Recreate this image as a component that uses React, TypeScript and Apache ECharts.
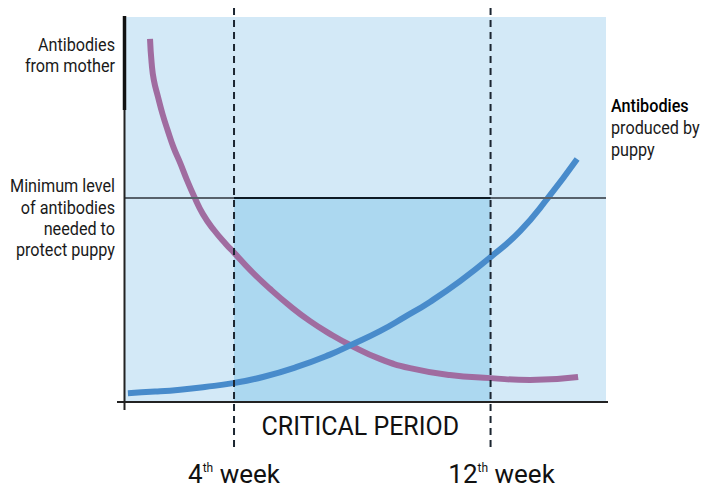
import React, { useEffect, useRef } from "react";
import * as echarts from "echarts";

// Weeks along the x axis, antibody level (0-100) along the y axis
const markedWeeks = [4, 12];
const weekNumbers = ["4", "12"];
const thresholdLevel = 53;

const motherWeeks = [1.38, 1.43, 1.5, 1.63, 1.77, 1.93, 2.11, 2.32, 2.53, 2.75, 3.03, 3.38, 3.75, 4.0, 4.5, 5.12, 5.75, 6.37, 6.99, 7.62, 8.55, 9.49, 10.73, 12.01, 13.23, 14.73];
const motherLevels = [94.3, 88.1, 83.6, 79.2, 74.8, 70.6, 66.2, 62.1, 57.7, 53.5, 48.8, 44.6, 41.0, 38.8, 34.3, 29.4, 24.9, 21.0, 17.7, 14.8, 11.2, 8.8, 7.0, 6.2, 5.7, 6.5];

const puppyWeeks = [0.69, 1.54, 2.32, 3.09, 3.97, 4.9, 5.96, 6.99, 7.62, 8.55, 9.33, 10.11, 11.05, 12.01, 12.92, 13.79, 14.7];
const puppyLevels = [2.3, 2.7, 3.2, 3.9, 4.9, 6.5, 9.1, 12.3, 14.7, 18.4, 22.1, 26.0, 31.4, 37.7, 44.4, 53.0, 63.1];

const motherLabel = ["Antibodies", "from mother"];
const thresholdLabel = ["Minimum level", "of antibodies", "needed to", "protect puppy"];
const puppyLabel = ["Antibodies", "produced by", "puppy"];
const periodLabel = "CRITICAL PERIOD";

const FONT = "Roboto, 'Liberation Sans', sans-serif";
const TEXT = "#1a1a1a";

export default function App() {
  const ref = useRef<HTMLDivElement>(null);

  useEffect(() => {
    if (!ref.current) return;
    const chart = echarts.init(ref.current, null, { renderer: "svg" });
    const zip = (xs: number[], ys: number[]) => xs.map((x, i) => [x, ys[i]]);

    chart.setOption({
      animation: false,
      grid: {
        left: 125,
        top: 17,
        width: 481,
        height: 385,
        show: true,
        backgroundColor: "#d3e9f7",
        borderWidth: 0,
      },
      xAxis: { type: "value", min: 0.6, max: 15.6, show: false },
      yAxis: { type: "value", min: 0, max: 100, show: false },
      series: [
        {
          type: "line",
          data: [],
          z: 1,
          silent: true,
          markArea: {
            silent: true,
            itemStyle: { color: "#acd8f0" },
            data: [[{ xAxis: markedWeeks[0], yAxis: 0 }, { xAxis: markedWeeks[1], yAxis: thresholdLevel }]],
          },
          markLine: {
            silent: true,
            symbol: ["none", "none"],
            label: { show: false },
            data: [
              { yAxis: thresholdLevel, lineStyle: { color: "#57616b", width: 2, type: "solid" } },
              [
                { coord: [markedWeeks[0], thresholdLevel], lineStyle: { color: "#0d1a24", width: 2, type: "solid" } },
                { coord: [markedWeeks[1], thresholdLevel] },
              ],
            ],
          },
        },
        {
          type: "line",
          z: 3,
          data: zip(motherWeeks, motherLevels),
          smooth: 0.5,
          showSymbol: false,
          symbol: "none",
          lineStyle: { color: "#a06ca0", width: 6, cap: "butt" },
        },
        {
          type: "line",
          z: 3,
          data: zip(puppyWeeks, puppyLevels),
          smooth: 0.5,
          showSymbol: false,
          symbol: "none",
          lineStyle: { color: "#488bcb", width: 6, cap: "butt" },
        },
      ],
    });

    const px = (x: number, y: number) => chart.convertToPixel({ gridIndex: 0 }, [x, y]) as number[];
    const [x0, yb] = px(0.6, 0);
    const [x1, yt] = px(15.6, 100);

    const graphic: any[] = [];
    // axes
    graphic.push({ type: "line", z: 10, shape: { x1: x0 - 0.5, y1: yt - 1, x2: x0 - 0.5, y2: yb + 8 }, style: { stroke: "#222", lineWidth: 2 } });
    graphic.push({ type: "line", z: 10, shape: { x1: x0 - 0.5, y1: yt - 1, x2: x0 - 0.5, y2: yt + 93 }, style: { stroke: "#111", lineWidth: 3.5 } });
    graphic.push({ type: "line", z: 10, shape: { x1: x0 - 8, y1: yb, x2: x1 + 2, y2: yb }, style: { stroke: "#222", lineWidth: 2 } });
    // dashed week lines
    markedWeeks.forEach((w) => {
      const [wx] = px(w, 0);
      graphic.push({
        type: "line",
        z: 11,
        shape: { x1: wx, y1: 8, x2: wx, y2: 449 },
        style: { stroke: "#1b2530", lineWidth: 2, lineDash: [7, 5] },
      });
    });
    // left labels
    graphic.push({
      type: "text",
      x: 115,
      y: 55,
      scaleX: 0.9,
      style: { text: motherLabel.join("\n"), fontFamily: FONT, fontSize: 18, lineHeight: 21.5, fill: TEXT, align: "right", verticalAlign: "middle" },
    });
    graphic.push({
      type: "text",
      x: 115,
      y: 218,
      scaleX: 0.9,
      style: { text: thresholdLabel.join("\n"), fontFamily: FONT, fontSize: 18, lineHeight: 21.3, fill: TEXT, align: "right", verticalAlign: "middle" },
    });
    // right label
    graphic.push({
      type: "text",
      x: 611,
      y: 128,
      scaleX: 0.9,
      style: {
        text: `{b|${puppyLabel[0]}}\n{r|${puppyLabel[1]}}\n{r|${puppyLabel[2]}}`,
        align: "left",
        verticalAlign: "middle",
        rich: {
          b: { fontFamily: FONT, fontSize: 18, fontWeight: 500, lineHeight: 22, fill: "#000" },
          r: { fontFamily: FONT, fontSize: 18, lineHeight: 22, fill: TEXT },
        },
      },
    });
    // critical period
    const [c0] = px(markedWeeks[0], 0);
    const [c1] = px(markedWeeks[1], 0);
    graphic.push({
      type: "text",
      x: (c0 + c1) / 2 - 2,
      y: 426,
      scaleX: 0.96,
      style: { text: periodLabel, fontFamily: FONT, fontSize: 26, fill: "#111", align: "center", verticalAlign: "middle" },
    });
    // week labels
    const weekOffsets = [0, 11];
    markedWeeks.forEach((w, i) => {
      const [wx] = px(w, 0);
      graphic.push({
        type: "text",
        x: wx + weekOffsets[i],
        y: 474,
        scaleX: 1.0,
        style: {
          text: `{n|${weekNumbers[i]}}{s|th}{n| week}`,
          align: "center",
          verticalAlign: "middle",
          rich: {
            n: { fontFamily: FONT, fontSize: 26, lineHeight: 24, fill: "#111" },
            s: { fontFamily: FONT, fontSize: 12, lineHeight: 14, verticalAlign: "top", fill: "#111" },
          },
        },
      });
    });

    chart.setOption({ graphic });

    return () => chart.dispose();
  }, []);

  return <div ref={ref} style={{ position: "absolute", left: 0, top: 0, width: 703, height: 488 }} />;
}
